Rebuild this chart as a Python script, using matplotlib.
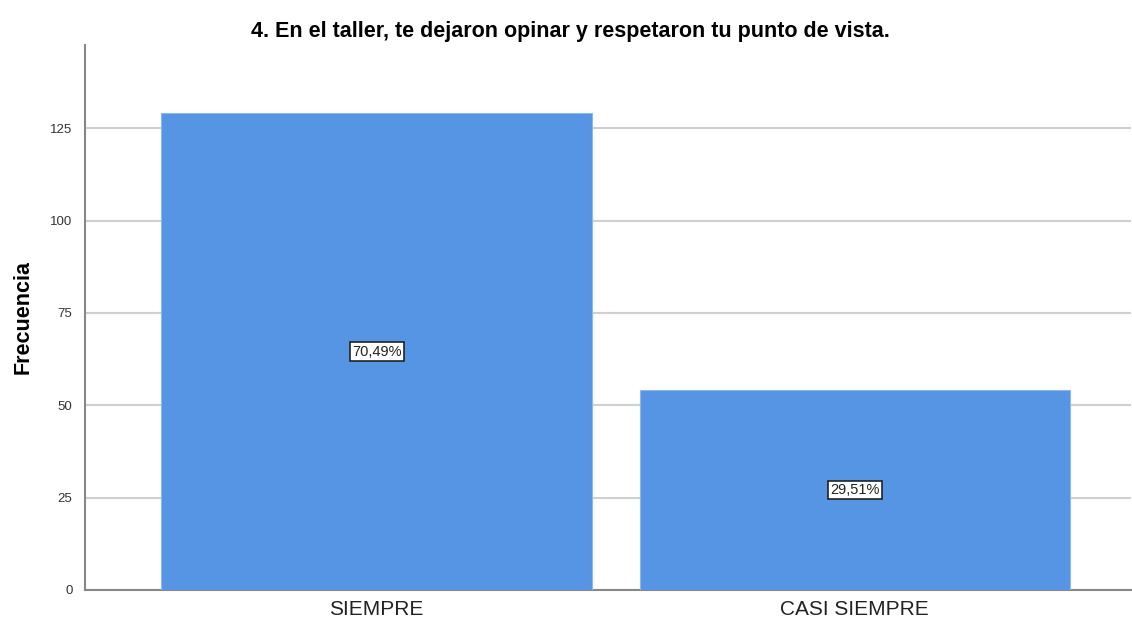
import matplotlib.pyplot as plt

plt.rcParams['font.family'] = ['Liberation Sans', 'DejaVu Sans']

# datos
categorias = ['SIEMPRE', 'CASI SIEMPRE']
frecuencias = [129, 54]
porcentajes = ['70,49%', '29,51%']
yticks = [0, 25, 50, 75, 100, 125]

fig = plt.figure(figsize=(11.32, 6.22), dpi=100)
ax = fig.add_axes([85 / 1132, 32 / 622, 1046 / 1132, 545 / 622])

x = list(range(len(categorias)))
ax.bar(x, frecuencias, width=0.9, color='#5595e3', edgecolor='#8db8ee', linewidth=0.8, zorder=3)

for xi, f, p in zip(x, frecuencias, porcentajes):
    ax.text(xi, f / 2, p, ha='center', va='center', fontsize=10.5, color='#222222', zorder=4,
            bbox=dict(boxstyle='square,pad=0.15', facecolor='white', edgecolor='#222222', linewidth=1.2))

ax.set_xlim(-0.61, 1.578)
ax.set_ylim(0, 147.5)
ax.set_yticks(yticks)
ax.set_xticks(x)
ax.set_xticklabels(categorias)
ax.tick_params(axis='y', length=0, labelsize=9.5, labelcolor='#333333', pad=9)
ax.tick_params(axis='x', length=0, labelsize=15, labelcolor='#222222', pad=7)
ax.yaxis.grid(True, color='#d0d0d0', linewidth=1.5, zorder=0)

for s in ['top', 'right']:
    ax.spines[s].set_visible(False)
for s in ['left', 'bottom']:
    ax.spines[s].set_color('#888888')
    ax.spines[s].set_linewidth(1.5)

ax.set_ylabel('Frecuencia', fontsize=15.5, fontweight='bold', labelpad=12)
fig.text(570 / 1132, 1 - 31 / 622, '4. En el taller, te dejaron opinar y respetaron tu punto de vista.',
         fontsize=15.5, fontweight='bold', ha='center', va='center')

fig.savefig('out.png', dpi=100)
